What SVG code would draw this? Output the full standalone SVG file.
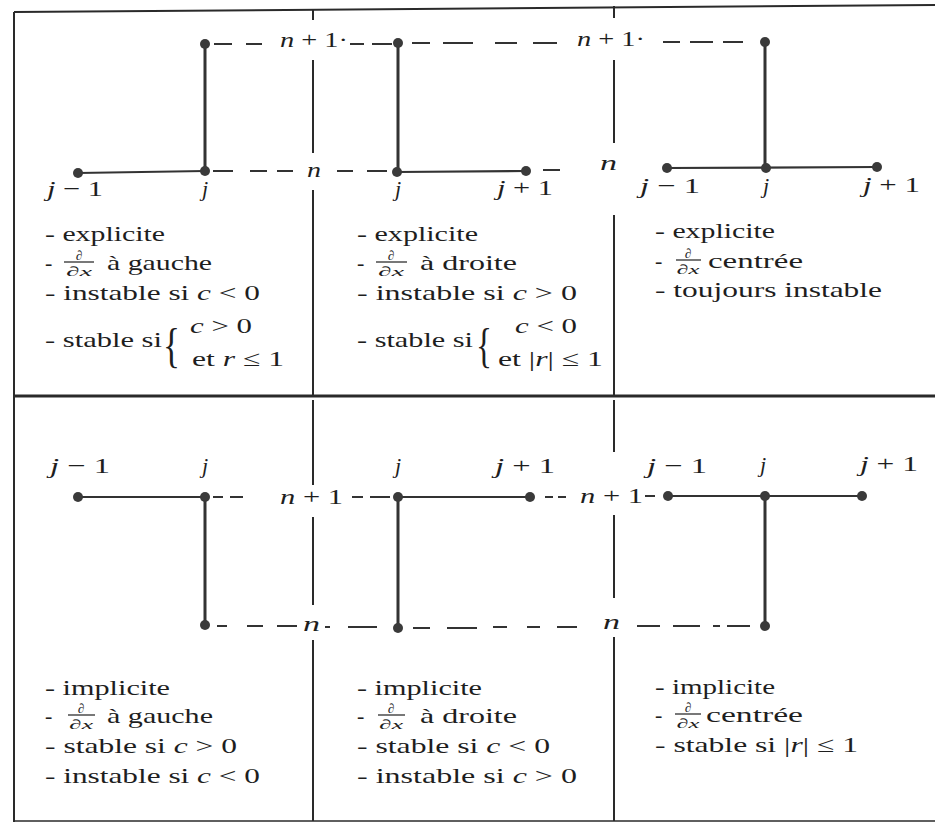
<svg xmlns="http://www.w3.org/2000/svg" width="935" height="823" viewBox="0 0 935 823">
<style>
.t{font-family:"Liberation Serif","DejaVu Serif",serif;font-size:22px;fill:#1e1e1e}
.i{font-style:italic}
.fr{font-family:"Liberation Serif","DejaVu Serif",serif;font-size:13.5px;font-style:italic;fill:#1e1e1e}
.br{font-family:"Liberation Serif","DejaVu Serif",serif;font-size:48px;fill:#1e1e1e}
.bar{stroke:#1e1e1e;stroke-width:1.2}
.frame{stroke:#2a2a2a;stroke-width:2;fill:none}
.div{stroke:#2a2a2a;stroke-width:2;fill:none}
.dash{stroke:#333;stroke-width:2;fill:none}
.solid{stroke:#333;stroke-width:2.2;fill:none}
.thick{stroke:#333;stroke-width:3;fill:none}
.node{fill:#3a3a3a}
</style>
<rect width="935" height="823" fill="#fff"/>
<g id="frame">
<path class="frame" d="M14,12 L935,5"/>
<path class="frame" d="M14,12 L14,822"/>
<path class="frame" d="M14,396 L935,396" style="stroke-width:3"/>
<path class="frame" d="M14,821 L935,821" style="stroke-width:1.5"/>
<path class="div" d="M313,10 V20 M313,60 V153 M313,190 V396 M313,400 V485 M313,517 V605 M313,640 V821"/>
<path class="div" d="M614,6 V18 M614,60 V143 M614,215 V396 M614,400 V452 M614,515 V598 M614,637 V821"/>
</g>
<g id="connectors">
<path class="dash" d="M214,44 H232 M246,44 H262 M350,44 H364 M372,44 H392 M412,43 H430 M443,43 H473 M495,43 H517 M533,43 H557 M663,42 H680 M690,42 H713 M723,42 H743"/>
<path class="dash" d="M213,171 H233 M250,171 H267 M277,171 H293 M337,171 H353 M367,171 H387 M543,170 H560"/>
<path class="solid" d="M78,173 L205,171 M397,172 L526,171 M667,168 L877,167"/>
<path class="thick" d="M205,44 V171 M398,43 V172 M765,42 V168"/>
<path class="solid" d="M78,497 H205 M398,497 L530,497 M668,496 H862"/>
<path class="dash" d="M213,497 H223 M230,497 H243 M352,497 H363 M370,497 H390 M545,497 H553 M558,497 H566 M645,496 H655"/>
<path class="dash" d="M217,626 H227 M247,626 H263 M277,626 H297 M325,627 H330 M348,627 H377 M413,628 H430 M447,628 H477 M493,627 H507 M527,627 H540 M557,627 H577 M637,626 H660 M673,626 H700 M713,626 H720 M727,626 H750"/>
<path class="thick" d="M205,497 V625 M398,497 V628 M765,496 V626"/>
</g>
<g id="nodes">
<g id="n1"><circle class="node" cx="78" cy="173" r="5"/></g>
<g id="n2"><circle class="node" cx="205" cy="171" r="5"/></g>
<g id="n3"><circle class="node" cx="205" cy="44" r="5"/></g>
<g id="n4"><circle class="node" cx="398" cy="43" r="5"/></g>
<g id="n5"><circle class="node" cx="397" cy="172" r="5"/></g>
<g id="n6"><circle class="node" cx="526" cy="171" r="5"/></g>
<g id="n7"><circle class="node" cx="765" cy="42" r="5"/></g>
<g id="n8"><circle class="node" cx="667" cy="168" r="5"/></g>
<g id="n9"><circle class="node" cx="766" cy="168" r="5"/></g>
<g id="n10"><circle class="node" cx="877" cy="167" r="5"/></g>
<g id="n11"><circle class="node" cx="78" cy="497" r="5"/></g>
<g id="n12"><circle class="node" cx="205" cy="497" r="5"/></g>
<g id="n13"><circle class="node" cx="205" cy="625" r="5"/></g>
<g id="n14"><circle class="node" cx="398" cy="497" r="5"/></g>
<g id="n15"><circle class="node" cx="398" cy="628" r="5"/></g>
<g id="n16"><circle class="node" cx="530" cy="497" r="5"/></g>
<g id="n17"><circle class="node" cx="668" cy="496" r="5"/></g>
<g id="n18"><circle class="node" cx="765" cy="496" r="5"/></g>
<g id="n19"><circle class="node" cx="862" cy="496" r="5"/></g>
<g id="n20"><circle class="node" cx="765" cy="626" r="5"/></g>
</g>
<g id="grid-labels" class="t">
<text x="47" y="196" textLength="56" lengthAdjust="spacingAndGlyphs"><tspan class="i">j</tspan> − 1</text>
<text x="205" y="196" text-anchor="middle" class="i">j</text>
<text x="398" y="196" text-anchor="middle" class="i">j</text>
<text x="497" y="195" textLength="56" lengthAdjust="spacingAndGlyphs"><tspan class="i">j</tspan> + 1</text>
<text x="640" y="193" textLength="60" lengthAdjust="spacingAndGlyphs"><tspan class="i">j</tspan> − 1</text>
<text x="766" y="193" text-anchor="middle" class="i">j</text>
<text x="863" y="192" textLength="57" lengthAdjust="spacingAndGlyphs"><tspan class="i">j</tspan> + 1</text>
<text x="280" y="47" textLength="68" lengthAdjust="spacingAndGlyphs"><tspan class="i">n</tspan> + 1·</text>
<text x="577" y="46" textLength="68" lengthAdjust="spacingAndGlyphs"><tspan class="i">n</tspan> + 1·</text>
<text x="307" y="177" textLength="14" lengthAdjust="spacingAndGlyphs" class="i">n</text>
<text x="600" y="170" textLength="17" lengthAdjust="spacingAndGlyphs" class="i">n</text>
<text x="50" y="473" textLength="60" lengthAdjust="spacingAndGlyphs"><tspan class="i">j</tspan> − 1</text>
<text x="205" y="473" text-anchor="middle" class="i">j</text>
<text x="398" y="473" text-anchor="middle" class="i">j</text>
<text x="495" y="473" textLength="60" lengthAdjust="spacingAndGlyphs"><tspan class="i">j</tspan> + 1</text>
<text x="647" y="473" textLength="60" lengthAdjust="spacingAndGlyphs"><tspan class="i">j</tspan> − 1</text>
<text x="763" y="472" text-anchor="middle" class="i">j</text>
<text x="860" y="471" textLength="58" lengthAdjust="spacingAndGlyphs"><tspan class="i">j</tspan> + 1</text>
<text x="280" y="504" textLength="63" lengthAdjust="spacingAndGlyphs"><tspan class="i">n</tspan> + 1</text>
<text x="580" y="503" textLength="63" lengthAdjust="spacingAndGlyphs"><tspan class="i">n</tspan> + 1</text>
<text x="303" y="631" textLength="17" lengthAdjust="spacingAndGlyphs" class="i">n</text>
<text x="603" y="629" textLength="17" lengthAdjust="spacingAndGlyphs" class="i">n</text>
</g>
<g id="text-top-left" class="t">
<text x="45" y="241" textLength="120" lengthAdjust="spacingAndGlyphs">- explicite</text>
<text x="45" y="270">-</text>
<text class="fr" x="79" y="260" text-anchor="middle">∂</text>
<line class="bar" x1="64" y1="262" x2="94" y2="262"/>
<text class="fr" x="79" y="276" text-anchor="middle" textLength="26" lengthAdjust="spacingAndGlyphs">∂x</text>
<text x="107" y="270" textLength="105" lengthAdjust="spacingAndGlyphs">à gauche</text>
<text x="45" y="300" textLength="215" lengthAdjust="spacingAndGlyphs">- instable si <tspan class="i">c</tspan> &lt; 0</text>
<text x="45" y="347" textLength="117" lengthAdjust="spacingAndGlyphs">- stable si</text>
<text class="br" x="163" y="362" textLength="17" lengthAdjust="spacingAndGlyphs">{</text>
<text x="190" y="333" textLength="62" lengthAdjust="spacingAndGlyphs"><tspan class="i">c</tspan> &gt; 0</text>
<text x="192" y="366" textLength="92" lengthAdjust="spacingAndGlyphs">et <tspan class="i">r</tspan> ≤ 1</text>
</g>
<g id="text-top-mid" class="t">
<text x="357" y="241" textLength="121" lengthAdjust="spacingAndGlyphs">- explicite</text>
<text x="357" y="270">-</text>
<text class="fr" x="391" y="260" text-anchor="middle">∂</text>
<line class="bar" x1="376" y1="262" x2="407" y2="262"/>
<text class="fr" x="391" y="276" text-anchor="middle" textLength="26" lengthAdjust="spacingAndGlyphs">∂x</text>
<text x="420" y="270" textLength="97" lengthAdjust="spacingAndGlyphs">à droite</text>
<text x="357" y="300" textLength="220" lengthAdjust="spacingAndGlyphs">- instable si <tspan class="i">c</tspan> &gt; 0</text>
<text x="357" y="347" textLength="116" lengthAdjust="spacingAndGlyphs">- stable si</text>
<text class="br" x="476" y="362" textLength="16" lengthAdjust="spacingAndGlyphs">{</text>
<text x="515" y="333" textLength="62" lengthAdjust="spacingAndGlyphs"><tspan class="i">c</tspan> &lt; 0</text>
<text x="498" y="366" textLength="105" lengthAdjust="spacingAndGlyphs">et |<tspan class="i">r</tspan>| ≤ 1</text>
</g>
<g id="text-top-right" class="t">
<text x="655" y="238" textLength="120" lengthAdjust="spacingAndGlyphs">- explicite</text>
<text x="655" y="268">-</text>
<text class="fr" x="688" y="258" text-anchor="middle">∂</text>
<line class="bar" x1="676" y1="260" x2="701" y2="260"/>
<text class="fr" x="688" y="274" text-anchor="middle" textLength="23" lengthAdjust="spacingAndGlyphs">∂x</text>
<text x="708" y="268" textLength="95" lengthAdjust="spacingAndGlyphs">centrée</text>
<text x="655" y="297" textLength="227" lengthAdjust="spacingAndGlyphs">- toujours instable</text>
</g>
<g id="text-bottom-left" class="t">
<text x="45" y="695" textLength="125" lengthAdjust="spacingAndGlyphs">- implicite</text>
<text x="45" y="723">-</text>
<text class="fr" x="81" y="713" text-anchor="middle">∂</text>
<line class="bar" x1="68" y1="715" x2="95" y2="715"/>
<text class="fr" x="81" y="729" text-anchor="middle" textLength="24" lengthAdjust="spacingAndGlyphs">∂x</text>
<text x="107" y="723" textLength="106" lengthAdjust="spacingAndGlyphs">à gauche</text>
<text x="45" y="753" textLength="192" lengthAdjust="spacingAndGlyphs">- stable si <tspan class="i">c</tspan> &gt; 0</text>
<text x="45" y="783" textLength="215" lengthAdjust="spacingAndGlyphs">- instable si <tspan class="i">c</tspan> &lt; 0</text>
</g>
<g id="text-bottom-mid" class="t">
<text x="357" y="695" textLength="125" lengthAdjust="spacingAndGlyphs">- implicite</text>
<text x="357" y="723">-</text>
<text class="fr" x="391" y="713" text-anchor="middle">∂</text>
<line class="bar" x1="378" y1="715" x2="405" y2="715"/>
<text class="fr" x="391" y="729" text-anchor="middle" textLength="24" lengthAdjust="spacingAndGlyphs">∂x</text>
<text x="420" y="723" textLength="97" lengthAdjust="spacingAndGlyphs">à droite</text>
<text x="357" y="753" textLength="193" lengthAdjust="spacingAndGlyphs">- stable si <tspan class="i">c</tspan> &lt; 0</text>
<text x="357" y="783" textLength="220" lengthAdjust="spacingAndGlyphs">- instable si <tspan class="i">c</tspan> &gt; 0</text>
</g>
<g id="text-bottom-right" class="t">
<text x="655" y="694" textLength="120" lengthAdjust="spacingAndGlyphs">- implicite</text>
<text x="655" y="722">-</text>
<text class="fr" x="688" y="712" text-anchor="middle">∂</text>
<line class="bar" x1="675" y1="714" x2="701" y2="714"/>
<text class="fr" x="688" y="728" text-anchor="middle" textLength="23" lengthAdjust="spacingAndGlyphs">∂x</text>
<text x="706" y="722" textLength="97" lengthAdjust="spacingAndGlyphs">centrée</text>
<text x="655" y="752" textLength="203" lengthAdjust="spacingAndGlyphs">- stable si |<tspan class="i">r</tspan>| ≤ 1</text>
</g>
</svg>
